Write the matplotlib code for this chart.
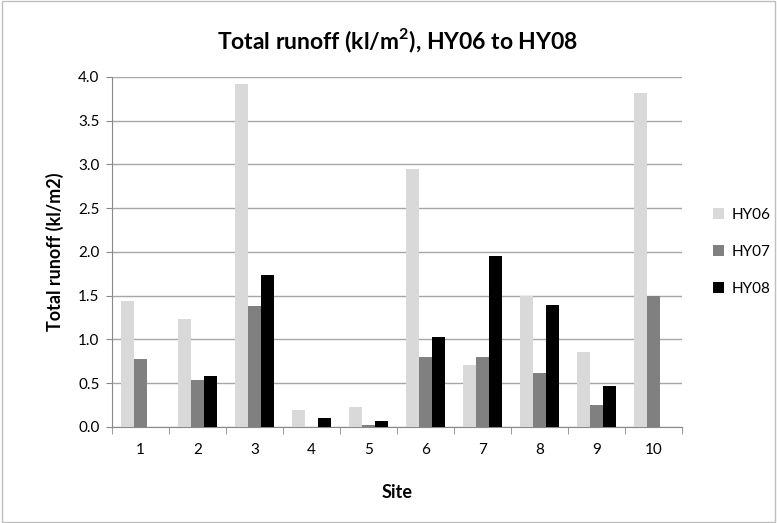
import matplotlib
matplotlib.use("Agg")
import matplotlib.pyplot as plt
import numpy as np
from matplotlib.patches import Rectangle

# data
sites = ["1", "2", "3", "4", "5", "6", "7", "8", "9", "10"]
hy06 = [1.44, 1.23, 3.92, 0.19, 0.23, 2.95, 0.71, 1.50, 0.86, 3.82]
hy07 = [0.77, 0.53, 1.38, 0.00, 0.02, 0.80, 0.80, 0.61, 0.25, 1.50]
hy08 = [0.00, 0.58, 1.73, 0.10, 0.07, 1.03, 1.95, 1.39, 0.47, 0.00]
series_names = ["HY06", "HY07", "HY08"]
colours = ["#d9d9d9", "#808080", "#000000"]

plt.rcParams['font.family'] = ['Lato', 'DejaVu Sans']

fig = plt.figure(figsize=(7.77, 5.23), dpi=100)
ax = fig.add_axes([0.144, 0.184, 0.734, 0.669])

x = np.arange(len(sites))
w = 0.228
for i, (vals, name, col) in enumerate(zip([hy06, hy07, hy08], series_names, colours)):
    ax.bar(x + (i - 1) * w, vals, width=w, color=col, label=name,
           linewidth=0, zorder=3)

ax.set_xlim(-0.5, len(sites) - 0.5)
ax.set_ylim(0, 4.0)
ax.set_yticks(np.arange(0, 4.01, 0.5))
ax.set_yticklabels([f"{v:.1f}" for v in np.arange(0, 4.01, 0.5)], fontsize=11)
ax.yaxis.grid(True, color="#a6a6a6", linewidth=1.0, zorder=0)

# category labels in the middle, tick marks on the boundaries
ax.set_xticks(x)
ax.set_xticklabels(sites, fontsize=11)
ax.tick_params(axis="x", length=0, pad=12)
ax.set_xticks(np.arange(-0.5, len(sites), 1.0), minor=True)
ax.tick_params(axis="x", which="minor", length=5, color="#888888")
ax.tick_params(axis="y", length=4, color="#888888", pad=5)

for s in ["top", "right"]:
    ax.spines[s].set_visible(False)
for s in ["left", "bottom"]:
    ax.spines[s].set_color("#888888")

ax.set_title("Total runoff (kl/m$^\\mathregular{2}$), HY06 to HY08",
             fontsize=16.5, fontweight="bold", pad=20)
ax.set_xlabel("Site", fontsize=13, fontweight="bold", labelpad=19)
ax.set_ylabel("Total runoff (kl/m2)", fontsize=13, fontweight="bold", labelpad=10)

ax.legend(loc="center left", bbox_to_anchor=(1.03, 0.5), frameon=False,
          fontsize=11, handlelength=0.7, handleheight=0.7, labelspacing=1.5,
          handletextpad=0.5)

fig.patches.append(Rectangle((0.002, 0.002), 0.996, 0.996, transform=fig.transFigure,
                             fill=False, edgecolor="#bfbfbf", linewidth=1.0))

fig.savefig("out.png", dpi=100)
